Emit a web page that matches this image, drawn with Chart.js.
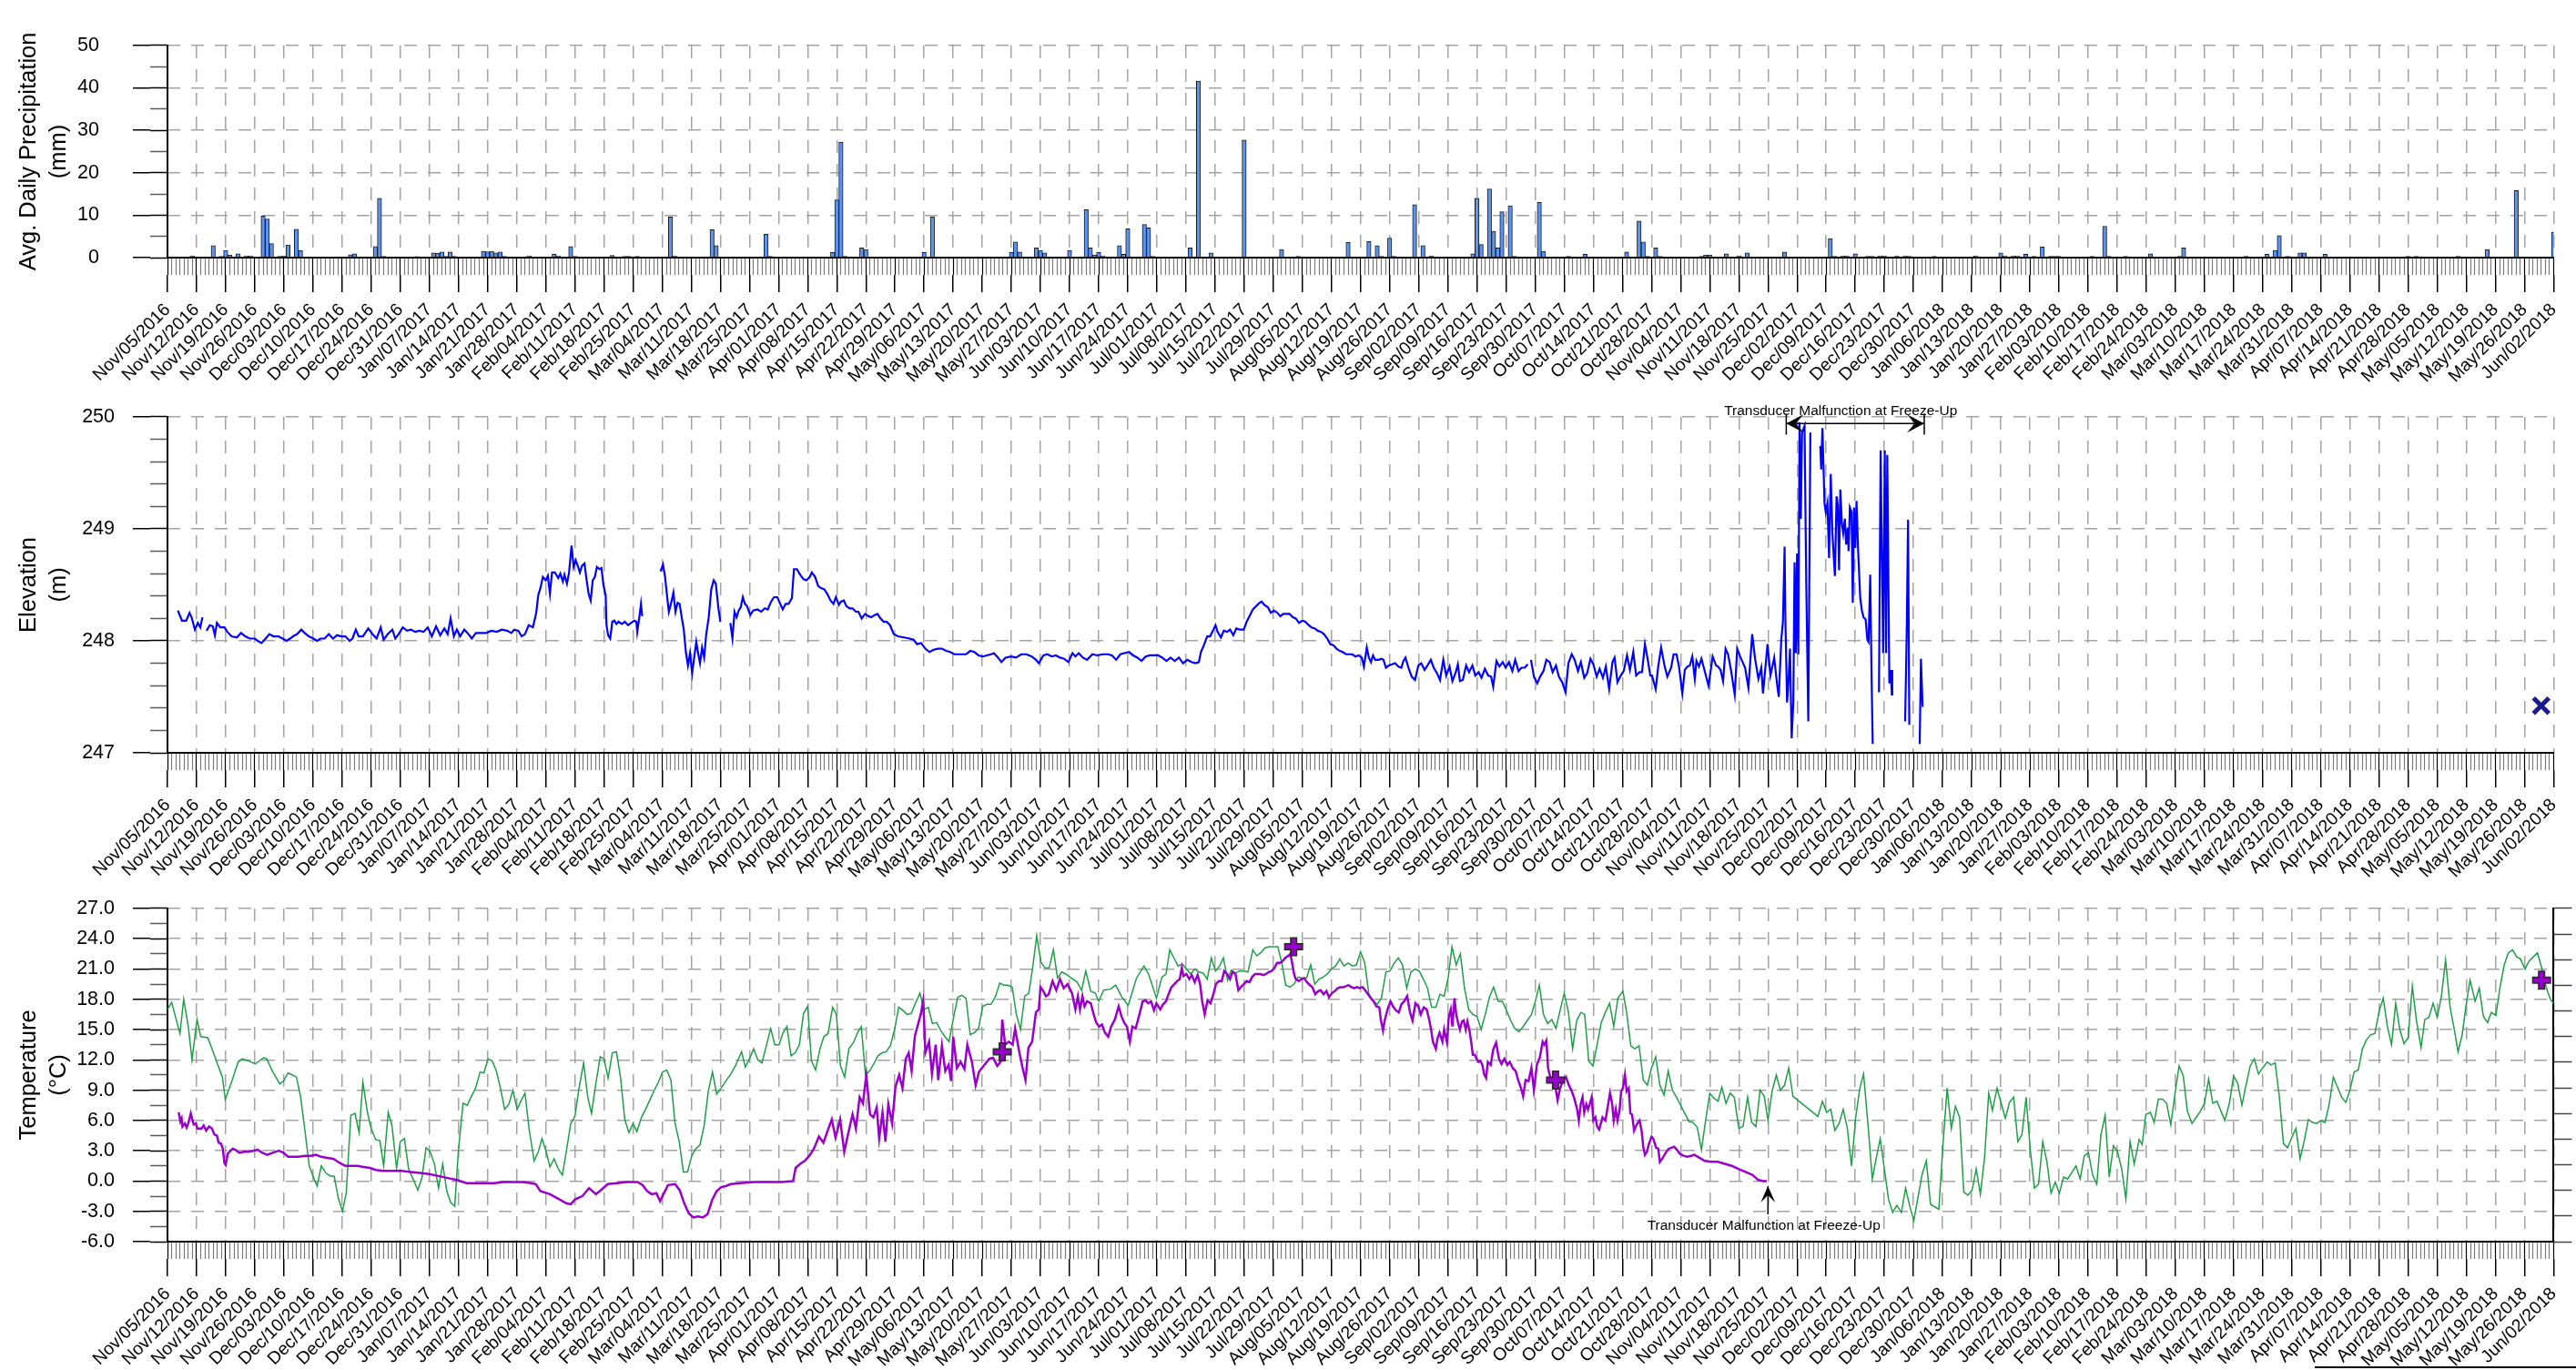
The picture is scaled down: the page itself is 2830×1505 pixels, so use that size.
<!DOCTYPE html>
<html>
<head>
<meta charset="utf-8">
<script src="https://cdn.jsdelivr.net/npm/chart.js@4.4.1/dist/chart.umd.min.js"></script>
<style>
  body { margin: 0; background: #fff; width: 2830px; height: 1505px; overflow: hidden; position: relative; }
  .band { position: absolute; left: 0; width: 2830px; }
  #legend-edge { position: absolute; left: 2543px; top: 1501px; width: 287px; border-top: 2px solid #000; }
</style>
</head>
<body>
<div class="band" style="top:0;height:430px"><canvas id="precip-chart"></canvas></div>
<div class="band" style="top:425px;height:540px"><canvas id="elevation-chart"></canvas></div>
<div class="band" style="top:965px;height:540px"><canvas id="temperature-chart"></canvas></div>
<div id="legend-edge"></div>
<script>
// x values are days counted from Nov/05/2016 (day 0) to Jun/02/2018 (day 574)
var weekLabels = [
  'Nov/05/2016','Nov/12/2016','Nov/19/2016','Nov/26/2016','Dec/03/2016','Dec/10/2016','Dec/17/2016','Dec/24/2016','Dec/31/2016',
  'Jan/07/2017','Jan/14/2017','Jan/21/2017','Jan/28/2017','Feb/04/2017','Feb/11/2017','Feb/18/2017','Feb/25/2017',
  'Mar/04/2017','Mar/11/2017','Mar/18/2017','Mar/25/2017','Apr/01/2017','Apr/08/2017','Apr/15/2017','Apr/22/2017','Apr/29/2017',
  'May/06/2017','May/13/2017','May/20/2017','May/27/2017','Jun/03/2017','Jun/10/2017','Jun/17/2017','Jun/24/2017',
  'Jul/01/2017','Jul/08/2017','Jul/15/2017','Jul/22/2017','Jul/29/2017','Aug/05/2017','Aug/12/2017','Aug/19/2017','Aug/26/2017',
  'Sep/02/2017','Sep/09/2017','Sep/16/2017','Sep/23/2017','Sep/30/2017','Oct/07/2017','Oct/14/2017','Oct/21/2017','Oct/28/2017',
  'Nov/04/2017','Nov/11/2017','Nov/18/2017','Nov/25/2017','Dec/02/2017','Dec/09/2017','Dec/16/2017','Dec/23/2017','Dec/30/2017',
  'Jan/06/2018','Jan/13/2018','Jan/20/2018','Jan/27/2018','Feb/03/2018','Feb/10/2018','Feb/17/2018','Feb/24/2018',
  'Mar/03/2018','Mar/10/2018','Mar/17/2018','Mar/24/2018','Mar/31/2018','Apr/07/2018','Apr/14/2018','Apr/21/2018','Apr/28/2018',
  'May/05/2018','May/12/2018','May/19/2018','May/26/2018','Jun/02/2018'
];

// [day, mm]
var precipMm = [
  [6,0.4],[11,2.8],[13,0.3],[14,1.7],[15,0.6],[17,0.9],[19,0.4],[20,0.4],[23,9.8],[24,9.1],[25,3.3],[27,0.3],[28,0.4],
  [29,3.0],[31,6.7],[32,1.7],[41,0.2],[42,0.2],[44,0.7],[45,0.9],[50,2.6],[51,14.0],[52,0.3],[60,0.25],[64,1.1],[65,1.0],
  [66,1.3],[67,0.3],[68,1.3],[69,0.3],[76,1.5],[77,1.4],[78,1.5],[79,1.1],[80,1.3],[81,0.3],[87,0.4],[93,0.8],[94,0.4],
  [97,2.6],[98,0.3],[107,0.5],[110,0.3],[111,0.3],[113,0.3],[121,9.6],[122,0.4],[131,6.6],[132,2.8],[144,5.5],[145,0.3],
  [160,1.2],[161,13.6],[162,27.2],[163,0.3],[167,2.3],[168,1.9],[182,1.2],[184,9.6],[203,1.2],[204,3.7],[205,1.3],[209,2.3],
  [210,1.7],[211,1.1],[217,1.7],[221,11.3],[222,2.3],[223,0.6],[224,1.2],[225,0.4],[229,2.8],[230,0.8],[231,6.8],[235,7.8],
  [236,7.0],[237,0.3],[246,2.3],[248,41.6],[251,1.1],[259,27.7],[268,1.9],[272,0.3],[284,3.6],[289,3.8],[291,2.8],[292,0.3],
  [294,4.6],[295,0.3],[300,12.5],[302,2.8],[304,0.4],[314,0.9],[315,14.0],[316,3.1],[318,16.2],[319,6.2],[320,2.3],[321,10.8],
  [323,12.2],[324,0.3],[330,13.0],[331,1.5],[337,0.3],[341,0.8],[351,1.3],[354,8.6],[355,3.7],[356,0.3],[358,2.3],[359,0.3],
  [369,0.3],[370,0.6],[371,0.6],[375,0.9],[378,0.4],[380,1.1],[389,1.3],[400,4.5],[401,0.3],[403,0.4],[404,0.4],[406,0.9],
  [409,0.3],[410,0.3],[412,0.4],[413,0.4],[416,0.4],[418,0.4],[419,0.3],[425,0.3],[435,0.4],[441,1.1],[442,0.4],[444,0.4],
  [445,0.4],[447,0.8],[449,0.3],[451,2.5],[453,0.3],[454,0.3],[455,0.3],[463,0.3],[466,7.4],[467,0.3],[471,0.3],[477,0.9],
  [484,0.3],[485,2.3],[500,0.3],[505,0.8],[507,1.7],[508,5.2],[510,0.3],[513,1.1],[514,1.1],[519,0.8],[539,0.3],[541,0.3],
  [551,0.3],[558,1.9],[565,15.8],[574,6.0]
];

// [day, m]; null = no record
var elevationM = [
  [2.5,248.27],[3.5,248.18],[4.5,248.18],[5.3,248.25],[5.8,248.21],[6.6,248.10],[7.3,248.16],[7.9,248.12],[8.4,248.21],[8.9,null],
  [9.4,248.09],[10.2,248.14],[10.9,248.13],[11.4,248.05],[11.9,248.16],[12.7,248.12],[13.7,248.12],[14.4,248.08],[15.4,248.04],
  [16.7,248.03],[17.7,248.07],[18.7,248.04],[19.8,248.02],[21,248.02],[21.7,248.00],[22.6,247.98],[23.6,248.02],[24.5,248.06],
  [25.5,248.04],[26.7,248.04],[27.7,248.02],[28.6,248.00],[29.5,248.02],[30.2,248.04],[31.2,248.06],[32.2,248.10],[33,248.07],
  [34,248.04],[35.1,248.02],[36,248.00],[36.8,248.02],[37.8,248.02],[38.8,248.06],[39.8,248.02],[40.8,248.05],[41.8,248.04],
  [42.8,248.04],[43.8,248.00],[44.5,248.02],[45.3,248.10],[46,248.04],[47,248.04],[48.3,248.11],[49.3,248.06],[50.3,248.02],
  [51.3,248.12],[52,248.01],[53,248.06],[54.1,248.10],[54.8,248.02],[55.6,248.06],[56.6,248.12],[57.6,248.09],[58.6,248.10],
  [59.6,248.08],[60.6,248.09],[61.6,248.08],[62.6,248.12],[63.6,248.04],[64.6,248.13],[65.6,248.05],[66.6,248.11],[67.4,248.06],
  [68.1,248.20],[68.9,248.04],[69.6,248.10],[70.4,248.04],[71.4,248.10],[72.4,248.06],[73.2,248.02],[74.2,248.07],[75.4,248.07],
  [76.7,248.07],[77.9,248.09],[79.2,248.08],[80.4,248.10],[81.7,248.09],[82.7,248.07],[83.4,248.10],[84.4,248.09],[85.2,248.04],
  [86,248.06],[86.9,248.14],[87.9,248.12],[88.7,248.25],[89.2,248.41],[89.7,248.47],[90.3,248.57],[91,248.54],[91.5,248.58],
  [92,248.42],[92.5,248.61],[93.2,248.61],[94,248.56],[94.5,248.60],[95.1,248.53],[95.5,248.59],[96.1,248.51],[96.6,248.61],
  [97.2,248.85],[97.7,248.66],[98.2,248.72],[98.7,248.67],[99.2,248.61],[99.7,248.67],[100.3,248.69],[100.8,248.55],[101.3,248.42],
  [101.8,248.36],[102.3,248.54],[102.8,248.57],[103.3,248.66],[103.9,248.64],[104.4,248.65],[104.9,248.49],[105.4,248.41],
  [105.6,248.14],[106,248.05],[106.5,248.02],[107,248.17],[107.5,248.18],[108,248.15],[108.5,248.17],[109.3,248.15],[110,248.17],
  [110.8,248.14],[111.5,248.16],[112.3,248.18],[112.8,248.17],[113,248.08],[113.5,248.21],[113.9,248.33],[114.2,248.22],[116,null],
  [118.6,248.62],[119.2,248.68],[119.7,248.57],[120.2,248.39],[120.6,248.26],[121.1,248.33],[121.7,248.43],[122.2,248.26],
  [122.7,248.34],[123.2,248.33],[123.7,248.21],[124.2,248.10],[124.7,247.90],[125.2,247.78],[125.7,247.89],[126.2,247.71],
  [126.7,247.85],[127.2,247.99],[127.6,247.90],[128.1,247.80],[128.6,247.94],[129.1,247.85],[129.6,248.06],[130.2,248.21],
  [130.8,248.46],[131.4,248.54],[131.9,248.51],[132.5,248.30],[133,248.17],[134,null],[135.4,248.16],[135.9,248.02],[136.4,248.26],
  [136.9,248.21],[137.4,248.27],[137.9,248.30],[138.4,248.39],[138.9,248.33],[139.4,248.31],[140.2,248.23],[140.9,248.27],
  [141.9,248.28],[142.8,248.26],[143.7,248.29],[144.4,248.28],[145.2,248.35],[145.9,248.39],[146.7,248.39],[147.4,248.33],
  [148,248.28],[148.7,248.33],[149.4,248.33],[150.2,248.38],[150.7,248.64],[151.4,248.64],[152.2,248.59],[153,248.55],
  [153.7,248.54],[154.5,248.57],[155,248.61],[155.8,248.57],[156.5,248.49],[157.2,248.47],[158,248.46],[158.7,248.42],
  [159.5,248.36],[160.2,248.33],[160.8,248.39],[161.5,248.32],[162,248.35],[162.7,248.36],[163.3,248.31],[164.1,248.29],
  [164.8,248.29],[165.6,248.26],[166.2,248.26],[167,248.20],[167.8,248.24],[168.6,248.22],[169.3,248.21],[170.1,248.23],
  [170.8,248.24],[171.5,248.20],[172.3,248.17],[173,248.17],[173.8,248.14],[174.7,248.06],[175.7,248.04],[177.2,248.03],
  [178.5,248.02],[179.5,248.01],[180.3,247.97],[181.3,247.98],[182.3,247.93],[183.3,247.90],[184.3,247.92],[185.3,247.93],
  [186.3,247.93],[187.3,247.91],[188.3,247.90],[189.3,247.88],[190.3,247.88],[191.3,247.88],[192.1,247.88],[193.1,247.91],
  [194.1,247.90],[195.1,247.87],[196.1,247.86],[197.1,247.87],[198.1,247.88],[198.8,247.89],[199.8,247.85],[200.6,247.81],
  [201.6,247.85],[202.9,247.86],[204.1,247.85],[205.4,247.88],[206.6,247.88],[207.9,247.86],[208.9,247.83],[209.6,247.80],
  [210.7,247.87],[211.7,247.88],[212.7,247.86],[213.7,247.87],[214.7,247.85],[215.7,247.84],[216.7,247.81],[217.7,247.89],
  [218.4,247.86],[219.2,247.89],[220.2,247.85],[221.2,247.83],[222.5,247.88],[223.7,247.87],[225,247.88],[226.2,247.88],
  [227.2,247.87],[228.2,247.83],[229.2,247.88],[230.2,247.89],[231.3,247.90],[232.3,247.87],[233.3,247.85],[234.3,247.82],
  [235.3,247.86],[236.3,247.87],[237.3,247.87],[238.3,247.87],[239.3,247.85],[240.3,247.82],[241.3,247.85],[242.3,247.82],
  [243.3,247.85],[244.3,247.80],[245.3,247.83],[246.3,247.81],[247.3,247.80],[248.1,247.81],[248.6,247.90],[249.3,247.96],
  [250.1,248.04],[250.8,248.04],[251.6,248.10],[252.1,248.14],[252.6,248.08],[253.4,248.03],[254.1,248.09],[254.9,248.08],
  [255.6,248.10],[256.4,248.05],[257.1,248.11],[257.9,248.10],[258.9,248.10],[259.6,248.17],[260.4,248.23],[261.1,248.28],
  [261.9,248.31],[262.7,248.34],[263.2,248.35],[263.9,248.32],[264.7,248.30],[265.4,248.25],[266.2,248.27],[267,248.25],
  [267.7,248.22],[268.4,248.24],[269.2,248.24],[269.9,248.24],[270.7,248.21],[271.4,248.20],[272.2,248.16],[273,248.18],
  [273.7,248.17],[274.5,248.14],[275.2,248.12],[276,248.11],[276.7,248.09],[277.5,248.08],[278.2,248.06],[279,248.02],
  [279.7,247.97],[280.5,247.96],[281.2,247.93],[282,247.91],[282.7,247.90],[283.5,247.88],[284.3,247.88],[285,247.88],
  [285.8,247.86],[286.5,247.87],[287.3,247.85],[287.8,247.77],[288.5,247.94],[289,247.85],[289.5,247.81],[290,247.87],
  [290.5,247.83],[291.3,247.83],[292,247.84],[292.5,247.83],[293.1,247.76],[293.8,247.78],[294.6,247.79],[295.3,247.80],
  [296.1,247.77],[296.8,247.76],[297.3,247.82],[297.8,247.85],[298.6,247.75],[299.3,247.68],[300.1,247.65],[300.9,247.78],
  [301.6,247.80],[302.4,247.74],[303.1,247.78],[303.9,247.83],[304.6,247.76],[305.4,247.71],[306.1,247.65],[306.9,247.83],
  [307.6,247.69],[308.4,247.77],[309.1,247.64],[309.9,247.72],[310.4,247.79],[310.9,247.64],[311.6,247.65],[312.4,247.78],
  [313.1,247.72],[313.9,247.78],[314.6,247.69],[315.4,247.72],[316.1,247.67],[316.9,247.75],[317.7,247.69],[318.4,247.68],
  [318.9,247.59],[319.7,247.82],[320.4,247.77],[321.2,247.81],[321.9,247.76],[322.7,247.81],[323.5,247.73],[324.2,247.83],
  [325,247.73],[325.7,247.76],[326.5,247.76],[327.2,247.79],[327.6,null],[328,247.83],[328.7,247.68],[329.5,247.62],
  [330.2,247.68],[331,247.73],[331.7,247.83],[332.5,247.81],[333.2,247.72],[334,247.78],[334.7,247.68],[335.5,247.63],
  [336.3,247.54],[337,247.80],[337.8,247.88],[338.5,247.83],[339.3,247.73],[340,247.81],[340.8,247.67],[341.5,247.71],
  [342.3,247.84],[343,247.79],[343.8,247.68],[344.5,247.75],[345.3,247.67],[346,247.77],[346.8,247.57],[347.6,247.81],
  [348.1,247.85],[348.8,247.63],[349.6,247.69],[350.3,247.73],[351.1,247.87],[351.8,247.74],[352.6,247.90],[353.3,247.69],
  [354.1,247.72],[354.7,247.72],[355.4,247.97],[356,247.85],[356.7,247.69],[357.1,247.69],[358,247.57],[358.6,247.77],
  [359.3,247.94],[360.1,247.78],[360.8,247.68],[361.7,247.76],[362.3,247.88],[363,247.88],[363.6,247.77],[364.4,247.53],
  [365,247.74],[365.6,247.77],[366.2,247.78],[366.8,247.86],[367.4,247.66],[367.8,247.82],[368.4,247.77],[369,247.84],
  [369.5,247.77],[370.7,247.60],[371.7,247.86],[372.5,247.78],[373,247.77],[373.6,247.74],[374.2,247.64],[374.8,247.93],
  [375.4,247.88],[376.1,247.74],[377,247.52],[377.6,247.93],[378.3,247.86],[378.9,247.81],[379.5,247.76],[380.3,247.58],
  [381.2,248.06],[381.9,247.84],[382.7,247.66],[383.4,247.76],[383.8,247.53],[384.9,247.97],[385.6,247.69],[386.5,247.85],
  [387.2,247.61],[387.6,247.50],[388.2,248.01],[388.6,248.17],[389,248.84],[389.2,248.17],[389.6,247.45],[389.9,247.61],
  [390.3,247.93],[390.7,247.13],[391.1,247.45],[391.4,248.70],[391.7,247.89],[392,248.78],[392.3,247.88],[392.6,249.95],
  [392.9,249.09],[393.2,249.86],[393.8,249.92],[394.2,248.54],[394.7,247.28],[395.2,249.86],[396.5,null],[397.6,249.74],
  [397.8,249.53],[398.1,249.90],[398.6,249.23],[398.9,249.15],[399.3,249.23],[399.7,248.74],[400.1,249.49],[400.5,248.96],
  [401.1,248.58],[401.5,249.29],[401.8,249.21],[402.1,248.63],[402.4,249.35],[402.8,249.04],[403.1,248.96],[403.5,249.09],
  [403.8,248.86],[404.2,249.01],[404.4,248.80],[404.7,249.19],[405.1,249.15],[405.4,248.34],[405.7,249.19],[406,248.83],
  [406.3,249.25],[406.7,248.80],[407.2,248.38],[407.6,248.27],[408,248.21],[408.5,248.19],[408.9,248.01],[409.2,247.99],
  [409.6,248.59],[409.9,247.74],[410.2,247.08],[411,null],[411.7,247.54],[412.1,249.70],[412.7,247.89],[413.1,249.70],
  [413.4,247.89],[413.7,249.66],[414.2,247.62],[414.5,247.74],[414.8,247.52],[414.9,247.74],[416,null],[418,247.28],
  [418.4,248.14],[418.7,249.08],[419,247.25],[420,null],[421.5,247.08],[421.8,247.84],[422.2,247.41]
];
var elevationSpot = [[571,247.42]];

// [day, °C]
var airTempC = [
  [0,17.0],[1,17.7],[3,14.6],[3.9,18.0],[5,15.3],[5.9,12.0],[7.1,16.0],[8,14.3],[9.7,14.2],[10.7,13.1],[12.2,11.4],[13.2,10.3],
  [13.9,8.1],[15.5,9.9],[17,11.8],[18,12.1],[19.5,11.9],[21.1,11.6],[23.1,12.2],[23.9,12.1],[25.1,11.0],[27,9.6],[27.9,9.9],
  [29,10.7],[30.1,10.5],[31,10.3],[32,8.4],[33,5.2],[34.1,1.5],[35,0.5],[36,-0.5],[37,1.5],[38.1,0.8],[39.2,0.5],[40.1,0.5],
  [41.1,-1.7],[42.1,-3.0],[43,-1.2],[44.1,6.5],[45.1,6.7],[46.1,4.8],[47,9.8],[48.1,6.8],[49,5.2],[50.1,4.1],[51.1,4.0],
  [52,1.5],[53.1,6.8],[54,5.5],[55.1,1.3],[56,3.9],[57,4.2],[58,1.2],[59.2,0.1],[60.2,-0.9],[61.2,0.3],[62.2,3.3],[63.2,2.9],
  [64.2,1.7],[65.2,-0.7],[66.2,1.7],[67.2,-1.0],[68.1,-2.1],[69.1,-2.5],[70,3.1],[71.1,7.7],[72.1,7.5],[73,8.3],[74.1,9.2],
  [75.2,10.8],[76.1,10.7],[77.1,12.1],[78.1,11.9],[79.1,10.9],[80.1,9.2],[81.1,7.1],[82.1,7.6],[83.1,9.0],[84.1,7.1],[85.1,8.0],
  [86,8.7],[87,5.1],[88.2,2.0],[89.2,2.9],[90.1,4.2],[91.1,2.9],[92,1.4],[93,2.2],[94,1.2],[95,0.6],[96,3.1],[97,5.7],[98,6.4],
  [99,9.2],[100.1,11.7],[101.1,8.3],[102,6.7],[103.1,9.8],[104.1,12.3],[105,12.1],[106,10.2],[107,12.7],[108,12.8],[109,10.2],
  [110,6.1],[111,4.8],[112,5.7],[112.9,4.9],[114,6.3],[115,7.1],[116,8.0],[117,8.9],[118.1,9.8],[119.1,10.8],[120.1,11.0],
  [121.1,10.0],[122.1,5.7],[123.1,3.9],[124.1,0.9],[125.1,0.9],[126.1,2.5],[127.1,3.2],[128.1,3.6],[129.1,5.5],[130.1,8.9],
  [131.1,10.8],[132.1,8.6],[133.2,9.2],[134.3,9.9],[135.5,10.6],[136.6,11.4],[138.1,12.8],[139,11.3],[140,12.1],[141,13.1],
  [142,12.0],[143,11.7],[144,13.3],[145.1,15.1],[146.1,13.5],[147.1,13.5],[148.1,14.7],[149,15.3],[150,12.4],[151,12.7],
  [152,13.5],[153,16.6],[154,17.3],[154.9,11.9],[155.9,11.0],[156.9,13.0],[157.9,14.3],[158.9,14.6],[160,17.2],[160.9,16.5],
  [161.9,11.4],[162.9,10.3],[163.9,13.1],[165,13.7],[166,14.7],[166.9,15.3],[167.9,10.5],[168.9,10.9],[169.9,11.6],[170.9,12.4],
  [171.9,12.7],[172.9,12.8],[173.9,13.4],[174.9,15.0],[175.9,17.2],[176.9,16.9],[177.9,16.5],[178.9,16.6],[179.9,17.6],[181,18.6],
  [182,17.0],[183,17.2],[184,15.6],[185,15.7],[186,14.9],[187,14.3],[188,13.8],[189.1,16.2],[190.1,18.2],[191.1,18.4],[192.1,18.1],
  [193.1,14.5],[194.1,14.7],[195.1,15.1],[196.1,17.3],[197.1,17.5],[198.1,17.5],[199.2,18.3],[200.2,19.6],[201.2,19.4],[202.2,19.4],
  [203.2,19.2],[204.2,16.5],[205.2,15.0],[206.2,18.3],[207.2,18.6],[208.2,21.4],[209.1,24.3],[210.1,21.7],[211.1,21.1],[212.1,21.1],
  [213.1,22.9],[214.1,20.1],[215.1,20.7],[216.1,20.5],[217.1,20.2],[218.8,19.7],[219.9,18.9],[220.9,20.8],[222.1,18.8],[223.2,18.6],
  [224,17.8],[225.2,18.9],[226.8,19.0],[228.1,19.4],[229.6,18.2],[231.1,17.4],[232,18.6],[233.1,20.1],[234.9,21.3],[236,20.5],
  [237.9,18.1],[239.2,20.2],[240.2,20.5],[241.1,22.9],[242.1,22.1],[243.1,21.3],[244.1,21.5],[245.1,21.0],[246.1,20.5],[247.1,21.0],
  [248.1,20.7],[249.1,20.6],[250.1,20.0],[251.1,22.1],[252.1,20.8],[253.1,21.3],[254,22.1],[255,19.9],[255.9,20.9],[256.9,20.6],
  [257.9,20.8],[258.9,20.8],[259.9,20.7],[261.1,22.9],[262,22.3],[263,22.6],[264,23.1],[265.1,23.2],[266.1,23.2],[267.1,23.2],
  [268,21.7],[269,19.4],[270,19.2],[271,19.5],[272,20.2],[273,20.1],[274,20.1],[275,21.4],[276,19.5],[277,20.0],[278,20.2],
  [279,20.5],[280,21.0],[281,21.3],[282,22.0],[283,21.3],[284,21.6],[285,21.3],[286,21.4],[287,22.7],[288,21.6],[289,18.5],
  [290,17.9],[291,17.5],[292,18.1],[293.1,20.7],[294.1,20.8],[295.1,21.6],[296.1,22.1],[297.1,21.4],[298.1,19.1],[299.1,20.7],
  [300.1,21.0],[301.1,20.8],[302.1,20.0],[303.1,19.1],[304.1,17.2],[305.1,17.2],[306.1,18.5],[307.1,18.3],[308.1,20.2],[309,23.2],
  [310,21.4],[311,22.5],[312,19.1],[313,17.0],[314,16.5],[315,16.3],[316,15.0],[317,16.5],[318,18.2],[319,19.2],[320.1,17.8],
  [321.1,17.8],[322.1,16.9],[323.1,15.9],[324.1,15.1],[325.1,14.8],[326.1,15.3],[327.1,15.9],[328.1,16.5],[329.1,17.9],[330,19.4],
  [331,16.5],[332,15.6],[333,16.0],[334,15.1],[335,16.9],[336,18.6],[337,16.7],[338,13.1],[339,15.9],[340,16.7],[340.9,16.5],
  [341.9,11.9],[342.9,11.4],[343.9,13.5],[344.9,15.7],[345.9,16.7],[346.9,17.6],[347.9,15.3],[348.9,18.1],[350.1,18.8],[351,16.7],
  [352,13.4],[353,13.1],[354,13.4],[355,10.0],[356,9.5],[357,11.2],[358,12.3],[359,9.5],[360,8.5],[361,10.9],[362,9.0],[363,8.3],
  [364,7.5],[365,6.7],[366,5.9],[367,5.8],[368,5.3],[369,3.1],[370,6.0],[371,8.7],[372,8.2],[373,7.9],[373.9,9.3],[374.9,7.7],
  [375.9,8.7],[376.9,8.3],[378,5.2],[379,5.4],[380.1,8.3],[381.1,5.8],[382.1,5.4],[383.1,9.0],[384.1,8.4],[385,6.0],[386,8.9],
  [387,10.5],[388,9.0],[389,9.5],[390,11.2],[391,8.4],[397,6.4],[398.1,7.9],[399.1,6.8],[400.1,7.1],[401.1,5.0],[402.1,5.7],
  [403.1,7.1],[404.1,5.2],[405.1,1.5],[406.1,6.3],[407.1,9.2],[408,10.6],[409.1,5.4],[410.1,0.2],[411,2.2],[412,4.2],[413.1,0.9],
  [414,-1.8],[415,-3.1],[416,-2.4],[417.1,-3.1],[418.1,-0.7],[419.1,-2.5],[420.1,-3.9],[421.1,-1.6],[422.1,0.7],[423.1,2.0],
  [424.1,-2.3],[426.1,-2.8],[427.1,3.6],[428.1,9.2],[429.1,5.2],[430.1,7.4],[431.1,6.3],[432.1,-1.1],[433.1,-1.4],[434.1,-0.9],
  [435.1,1.2],[436.1,-1.3],[437.1,2.3],[438.1,8.7],[439,7.0],[440.1,9.2],[441.1,7.7],[442.1,6.2],[443.1,7.8],[444.1,8.3],
  [445.1,3.9],[446.1,4.6],[447.1,8.3],[448.1,3.1],[449.1,-0.7],[450.1,-0.3],[451.1,3.9],[452.1,1.9],[453.1,-1.2],[454.1,-0.1],
  [455.1,-1.2],[456.1,0.4],[457.1,0.2],[458.2,0.9],[459.1,1.5],[460.1,0.2],[461.1,2.5],[462.1,2.8],[463.1,0.6],[464.1,-0.3],
  [465.1,4.6],[466.1,6.5],[467.1,0.4],[468.1,3.5],[469.1,2.9],[470.1,1.2],[471.1,-1.8],[472.1,3.9],[473.1,1.7],[474.3,4.1],
  [475,3.6],[475.9,6.6],[477,6.8],[477.9,5.8],[478.9,8.1],[479.9,8.1],[480.9,7.7],[481.9,5.6],[483,8.9],[483.9,11.4],[484.9,10.4],
  [485.9,6.9],[487,5.7],[488,6.3],[489,6.9],[490,7.7],[491,10.1],[492,7.7],[493,7.9],[494,6.9],[494.9,6.0],[496,7.7],[497,10.4],
  [498,9.7],[499,7.5],[500,9.5],[501,11.4],[502,12.1],[503,10.6],[504,11.2],[505.1,11.8],[506,11.5],[507,11.7],[508,8.4],[509,3.7],
  [510,3.3],[511,4.3],[512,5.2],[513,2.2],[514,4.0],[515,6.1],[516,5.8],[517,5.7],[518,6.0],[519,5.8],[520,7.6],[521,10.3],
  [522,9.3],[523,8.3],[524,7.8],[525,9.0],[526,10.8],[527,11.0],[528,13.1],[529,14.0],[530,14.5],[531,14.6],[532,16.8],[533,18.1],
  [534,15.3],[535,13.5],[536,17.6],[537,15.0],[538,13.6],[539,14.2],[540,19.3],[541,15.9],[542.1,13.2],[543,16.0],[544,16.2],
  [545,17.6],[546,16.2],[547,18.3],[548,21.9],[549.1,17.2],[550.1,15.0],[551,12.8],[552,14.5],[553,17.6],[553.9,19.9],[555.1,17.8],
  [556.1,19.1],[557.1,16.3],[558.1,15.7],[559,16.7],[560.1,16.4],[561.1,19.2],[562.1,21.4],[563.1,22.6],[564.1,22.9],[565.1,22.2],
  [566,22.0],[567.1,21.0],[568.1,21.8],[569.1,22.2],[570.1,22.6],[571.2,21.0],[572.2,19.2],[573.2,18.0],[574,17.6]
];

var waterTempC = [
  [2.7,6.8],[3.1,5.9],[3.4,6.2],[3.6,5.4],[4.2,5.7],[4.6,5.3],[5,5.7],[5.6,6.7],[5.9,6.2],[6.3,5.6],[6.8,5.7],[7.2,5.2],[8.2,5.2],
  [8.7,5.5],[9.3,5.0],[10,5.4],[10.7,5.2],[11.3,4.6],[11.9,4.5],[12.3,3.8],[12.9,3.7],[13.3,3.2],[13.7,1.8],[14,1.6],[14.5,2.7],
  [15.1,3.0],[15.7,3.2],[16.3,3.1],[17.3,2.8],[18.4,2.9],[19.5,2.9],[20.6,3.0],[21.7,3.1],[22.8,2.8],[24,2.6],[25.3,2.8],[26.8,3.0],
  [27.9,2.8],[29,2.4],[30.1,2.4],[31.5,2.4],[33,2.5],[34.4,2.5],[35.7,2.6],[37,2.4],[38.4,2.3],[39.9,2.2],[41.4,1.8],[42.8,1.5],
  [44.3,1.5],[45.7,1.5],[47.2,1.4],[48.7,1.3],[50.1,1.1],[51.8,1.0],[54,1.0],[56.3,1.0],[58.5,0.9],[60.7,0.8],[62.9,0.7],[65.2,0.5],
  [67.4,0.3],[69.6,0.1],[71.9,-0.2],[74.1,-0.2],[76.3,-0.2],[78.6,-0.2],[80.8,-0.1],[83,-0.1],[85.3,-0.1],[87.5,-0.2],[88.6,-0.3],
  [89.7,-1.0],[92,-1.3],[94.2,-1.8],[95.9,-2.2],[97,-2.3],[98.1,-1.8],[99.8,-1.5],[101.4,-0.7],[103.1,-1.3],[104.8,-0.7],[105.9,-0.3],
  [108.1,-0.2],[110.4,-0.1],[113.1,-0.1],[114.3,-0.4],[115.4,-1.0],[116.5,-1.3],[117.6,-1.2],[118.5,-2.0],[119.3,-1.3],[120.4,-0.4],
  [122.1,-0.3],[123.2,-0.9],[124.3,-2.2],[125.4,-3.2],[126.5,-3.6],[127.6,-3.5],[128.8,-3.6],[129.9,-3.3],[131,-1.9],[132.1,-1.0],
  [133.2,-0.6],[134.3,-0.5],[135.5,-0.3],[137.7,-0.2],[141,-0.1],[144.4,-0.1],[147.7,-0.1],[150.5,0.0],[151.1,1.3],[152.2,1.7],
  [153.3,2.0],[154.4,2.5],[155.5,3.2],[156.7,4.4],[157.8,3.8],[158.9,5.1],[159.8,6.1],[160.7,4.3],[161.8,6.1],[162.8,2.9],[163.9,5.0],
  [164.8,6.6],[165.6,5.2],[166.5,8.3],[167.3,7.7],[168.1,10.5],[169,6.6],[169.8,6.3],[170.6,7.3],[171.2,4.2],[172,6.8],[172.7,3.9],
  [173.4,7.6],[174.3,5.7],[175.1,9.3],[176,10.5],[176.8,9.2],[177.6,12.1],[178.3,12.7],[179,10.9],[179.8,14.4],[180.6,15.6],
  [181.2,16.5],[181.8,17.9],[182.3,12.7],[183.2,13.8],[183.9,10.6],[184.8,13.5],[185.4,10.0],[186.3,13.4],[187.1,10.9],[187.9,11.5],
  [188.5,9.9],[189,14.3],[189.9,11.2],[190.8,11.8],[191.7,11.1],[192.4,13.5],[193.5,11.8],[194.4,9.5],[195.2,10.8],[196.3,11.4],
  [197.7,12.1],[198.6,12.2],[199.6,11.4],[200.4,11.8],[200.8,16.0],[201.5,13.5],[202.4,13.8],[203.3,13.5],[203.9,15.1],[204.8,13.0],
  [205.7,11.2],[206.4,10.0],[207.1,13.2],[208,13.8],[208.9,16.7],[209.6,17.0],[210,19.2],[210.7,18.8],[211.3,18.3],[212,18.5],
  [212.9,19.8],[213.8,18.9],[214.7,20.0],[215.6,19.1],[216.5,19.5],[217.6,18.6],[218.4,17.0],[219,18.3],[219.5,17.0],[220.1,18.3],
  [220.6,17.3],[221.2,17.8],[222.1,17.6],[222.8,16.5],[223.4,15.7],[224.1,15.3],[224.8,15.5],[225.5,14.7],[226.3,14.3],[227,15.3],
  [227.9,16.0],[228.8,17.3],[229.5,16.3],[230.1,15.7],[230.8,15.3],[231.5,13.8],[232.1,15.3],[232.9,15.1],[233.8,16.5],[234.6,17.8],
  [235.3,17.9],[235.9,17.6],[236.6,17.8],[237.3,16.9],[237.9,17.6],[238.8,17.0],[239.5,17.5],[240.2,17.8],[240.8,18.5],[241.5,19.2],
  [242.2,19.5],[242.9,19.8],[243.5,20.0],[244,21.1],[244.4,20.3],[245.1,20.5],[245.8,20.0],[246.4,20.4],[247.1,19.7],[247.8,20.4],
  [248.4,19.5],[248.9,17.8],[249.5,16.5],[250.2,17.9],[250.9,17.6],[251.6,18.5],[252.2,19.5],[252.9,19.8],[253.6,19.8],[254.2,20.8],
  [254.9,20.5],[255.6,20.0],[256.2,20.7],[256.9,20.5],[257.6,18.9],[258.2,19.2],[258.9,19.5],[259.6,19.8],[260.3,19.7],[260.9,20.2],
  [261.6,20.5],[262.3,20.5],[262.9,20.5],[263.6,20.4],[264.3,20.5],[264.9,20.7],[265.6,20.8],[266.3,21.1],[266.9,21.6],[267.6,21.6],
  [268.3,21.8],[268.9,22.1],[269.6,22.3],[270.1,22.5],[270.5,21.7],[271,20.5],[271.4,20.0],[272.1,19.8],[272.8,20.0],[273.4,20.1],
  [274.1,19.7],[274.8,19.4],[275.4,19.2],[276.1,18.5],[276.8,18.8],[277.4,18.9],[278.1,18.5],[278.8,18.8],[279.4,18.2],[280.1,18.6],
  [280.8,18.8],[281.5,19.1],[282.1,19.2],[282.8,19.2],[283.5,19.3],[284.1,19.4],[284.8,19.2],[285.5,19.1],[286.1,19.2],[286.8,19.1],
  [287.5,19.2],[288.1,18.9],[288.8,18.5],[289.5,18.1],[290.1,17.8],[290.8,17.3],[291.5,17.2],[291.9,15.9],[292.4,14.9],[292.8,15.9],
  [293.5,17.0],[294.2,17.8],[294.8,17.3],[295.5,16.9],[296.2,16.7],[296.8,17.5],[297.5,17.8],[298.2,18.3],[298.9,16.7],[299.5,15.9],
  [300.2,17.6],[300.9,17.3],[301.5,16.5],[302.2,17.2],[302.9,17.0],[303.5,16.0],[304,14.9],[304.4,13.8],[305.1,13.1],[305.5,14.1],
  [306,14.7],[306.7,13.8],[307.1,15.0],[307.8,13.7],[308.2,16.2],[308.7,17.0],[309.1,15.3],[309.6,18.1],[310,16.5],[310.5,15.6],
  [310.9,15.0],[311.4,15.8],[311.8,15.9],[312.3,15.0],[312.7,15.8],[313.2,14.9],[313.6,13.8],[314,12.5],[314.5,12.5],[314.9,12.1],
  [315.4,11.8],[315.8,11.9],[316.3,11.5],[316.7,10.6],[317.2,10.2],[317.6,11.8],[318.3,11.5],[318.9,13.0],[319.6,13.7],[320.3,12.1],
  [320.9,11.6],[321.6,12.1],[322.3,11.5],[322.9,11.8],[323.6,11.2],[324.3,10.9],[324.9,10.0],[325.6,9.2],[326.1,8.4],[326.7,10.0],
  [327.4,9.9],[328.1,11.2],[328.7,9.0],[329.4,11.5],[330.1,12.2],[330.8,13.8],[331.2,13.5],[331.7,13.9],[332.1,11.2],[332.8,10.0],
  [333.5,9.9],[333.9,9.2],[334.4,8.0],[335,9.2],[335.7,10.0],[336.4,10.3],[337.1,9.5],[337.7,9.0],[338.4,8.2],[339.1,7.1],[339.5,6.0],
  [340,7.7],[340.4,8.3],[340.8,6.8],[341.3,7.6],[341.7,7.1],[342.1,7.6],[342.6,8.3],[343,6.0],[343.5,6.3],[343.9,5.4],[344.4,5.1],
  [344.8,5.7],[345.2,6.3],[345.9,6.0],[346.6,7.7],[347,8.7],[347.5,7.7],[347.9,6.0],[348.4,7.1],[348.8,6.0],[349.3,7.0],[349.7,8.9],
  [350.1,9.2],[350.6,10.5],[351,8.9],[351.5,9.2],[351.9,6.7],[352.3,6.6],[352.8,5.0],[353.2,5.4],[353.7,5.8],[354.1,6.0],[354.6,5.0],
  [355,3.4],[355.4,2.6],[355.9,2.9],[356.3,3.6],[357,4.4],[357.4,4.2],[358.1,3.3],[358.6,3.2],[359,1.9],[359.7,2.3],[360.4,2.8],
  [361.1,3.2],[361.8,3.3],[362.4,3.4],[363.1,3.1],[363.8,2.7],[364.7,2.5],[365.6,2.4],[366.5,2.5],[367.3,2.6],[368.5,2.3],[369.8,2.0],
  [371.3,1.9],[372.9,1.9],[374.6,1.7],[376.3,1.5],[377.9,1.2],[379.6,0.9],[381.3,0.6],[382.7,0.1],[384,0.0],[384.7,0.0]
];
var waterSpotC = [[200.8,12.8],[270.9,23.2],[333.9,10.0],[571.1,19.9]];

var FONT = "'Liberation Sans', Arial, sans-serif";
var GRID = '#a4a4a4';
var DASH = [14, 12];
var NOTE = 'Transducer Malfunction at Freeze-Up';

Chart.defaults.font.family = FONT;
Chart.defaults.color = '#000';

function xy(pairs) {
  return pairs.map(function (p) { return {x: p[0], y: p[1]}; });
}

function onStep(v, step, base) {
  var k = (v - base) / step;
  return Math.abs(k - Math.round(k)) < 1e-6;
}

// daily minor ticks right under the plot, weekly labelled ticks below them
function dayScales(labelBand) {
  return {
    xMinor: {
      type: 'linear', position: 'bottom', weight: 0, min: 0, max: 574, offset: false,
      ticks: {display: false, stepSize: 1},
      grid: {offset: false, drawOnChartArea: false, tickLength: 19, tickWidth: 1.2,
        tickColor: function (c) { return c.tick && onStep(c.tick.value, 7, 0) ? '#000' : '#7b7b7b'; }},
      border: {display: true, color: '#000', width: 2},
      afterFit: function (s) { s.height = 19; }
    },
    x: {
      type: 'linear', position: 'bottom', weight: 1, min: 0, max: 574, offset: false,
      ticks: {stepSize: 7, autoSkip: false, minRotation: 45, maxRotation: 45, padding: 8, font: {size: 19.5},
        callback: function (v) { return weekLabels[Math.round(v / 7)]; }},
      grid: {offset: false, color: GRID, lineWidth: 1.5, tickLength: 19, tickWidth: 1.5, tickColor: '#000'},
      border: {display: false, dash: DASH},
      afterFit: function (s) { s.height = labelBand; }
    }
  };
}

function valueScales(min, max, minorStep, majorStep, fmt, title, labelPad) {
  return {
    yMinor: {
      type: 'linear', position: 'left', weight: 0, min: min, max: max,
      ticks: {display: false, stepSize: minorStep},
      grid: {drawOnChartArea: false, tickLength: 19, tickWidth: 1.5,
        tickColor: function (c) { return c.tick && onStep(c.tick.value, majorStep, min) ? '#000' : '#5a5a5a'; }},
      border: {display: true, color: '#000', width: 2},
      afterFit: function (s) { s.width = 19; }
    },
    y: {
      type: 'linear', position: 'left', weight: 1, min: min, max: max,
      ticks: {stepSize: majorStep, padding: labelPad, font: {size: 21.5}, callback: fmt},
      grid: {color: GRID, lineWidth: 1.5, tickLength: 19, tickWidth: 1.5, tickColor: '#000'},
      border: {display: false, dash: DASH},
      title: {display: true, text: title, font: {size: 25.5, lineHeight: 1.28}, padding: {top: 16, bottom: 0}},
      afterFit: function (s) { s.width = 165; }
    }
  };
}

function baseOptions(pad, scales) {
  return {
    responsive: true,
    maintainAspectRatio: false,
    devicePixelRatio: 1,
    animation: false,
    layout: {padding: pad},
    plugins: {legend: {display: false}, tooltip: {enabled: false}},
    elements: {point: {radius: 0}, line: {tension: 0}},
    scales: scales
  };
}

function arrowHead(ctx, x, y, angle, len, half) {
  ctx.save();
  ctx.translate(x, y);
  ctx.rotate(angle);
  ctx.beginPath();
  ctx.moveTo(0, 0);
  ctx.lineTo(-len, -half);
  ctx.lineTo(-len * 0.55, 0);
  ctx.lineTo(-len, half);
  ctx.closePath();
  ctx.fill();
  ctx.restore();
}

// --- precipitation ---
new Chart(document.getElementById('precip-chart'), {
  type: 'bar',
  data: {
    datasets: [{
      data: xy(precipMm),
      xAxisID: 'x', yAxisID: 'y',
      backgroundColor: '#5a94f4',
      borderColor: '#1a1a1a',
      borderWidth: 1,
      barPercentage: 1,
      categoryPercentage: 1
    }]
  },
  options: baseOptions({top: 18, right: 22, left: 0, bottom: 0},
    Object.assign(dayScales(128), valueScales(0, 50, 5, 10, function (v) { return v; },
      ['Avg. Daily Precipitation', '(mm)'], 37)))
});

// --- elevation ---
var freezeSpan = {
  id: 'freezeSpan',
  afterDatasetsDraw: function (chart) {
    var ctx = chart.ctx, x = chart.scales.x, y = chart.scales.y;
    var x0 = x.getPixelForValue(389.4), x1 = x.getPixelForValue(422.6);
    var ya = y.getPixelForValue(249.94);
    ctx.save();
    ctx.strokeStyle = '#000';
    ctx.fillStyle = '#000';
    ctx.lineWidth = 1.5;
    ctx.beginPath();
    ctx.moveTo(x0, ya); ctx.lineTo(x1, ya);
    ctx.moveTo(x0, y.getPixelForValue(250.03)); ctx.lineTo(x0, y.getPixelForValue(249.84));
    ctx.moveTo(x1, y.getPixelForValue(250.03)); ctx.lineTo(x1, y.getPixelForValue(249.84));
    ctx.stroke();
    arrowHead(ctx, x0, ya, Math.PI, 19, 10);
    arrowHead(ctx, x1, ya, 0, 19, 10);
    ctx.font = '15.5px ' + FONT;
    ctx.textAlign = 'center';
    ctx.textBaseline = 'alphabetic';
    ctx.fillText(NOTE, x.getPixelForValue(402.5), y.getPixelForValue(250) - 2);
    ctx.restore();
  }
};

new Chart(document.getElementById('elevation-chart'), {
  type: 'line',
  data: {
    datasets: [{
      data: xy(elevationSpot),
      xAxisID: 'x', yAxisID: 'y',
      showLine: false,
      pointStyle: 'crossRot',
      pointRadius: 12,
      pointBorderWidth: 5,
      pointBorderColor: '#1b1b8c',
      borderColor: '#1b1b8c'
    }, {
      data: xy(elevationM),
      xAxisID: 'x', yAxisID: 'y',
      borderColor: '#0000ff',
      borderWidth: 2.2,
      pointRadius: 0,
      spanGaps: false
    }]
  },
  options: baseOptions({top: 24, right: 22, left: 0, bottom: 0},
    Object.assign(dayScales(119), valueScales(247, 250, 0.2, 1, function (v) { return Math.round(v); },
      ['Elevation', '(m)'], 20))),
  plugins: [freezeSpan]
});

// --- temperature ---
var freezeMark = {
  id: 'freezeMark',
  afterDatasetsDraw: function (chart) {
    var ctx = chart.ctx, x = chart.scales.x, y = chart.scales.y;
    var xa = x.getPixelForValue(385);
    var tip = y.getPixelForValue(-0.5);
    ctx.save();
    ctx.strokeStyle = '#000';
    ctx.fillStyle = '#000';
    ctx.lineWidth = 1.5;
    ctx.beginPath();
    ctx.moveTo(xa, tip); ctx.lineTo(xa, y.getPixelForValue(-3.3));
    ctx.stroke();
    arrowHead(ctx, xa, tip, -Math.PI / 2, 18, 8);
    ctx.font = '15.5px ' + FONT;
    ctx.textAlign = 'center';
    ctx.textBaseline = 'middle';
    ctx.fillText(NOTE, x.getPixelForValue(384), y.getPixelForValue(-4.4));
    ctx.restore();
  }
};

var tempScales = Object.assign(dayScales(122), valueScales(-6, 27, 1.5, 3, function (v) { return v.toFixed(1); },
  ['Temperature', '(\u00B0C)'], 20));
tempScales.yRight = {
  type: 'linear', position: 'right', min: 0, max: 13,
  ticks: {display: false, stepSize: 1},
  grid: {drawOnChartArea: false, tickLength: 20, tickWidth: 1.5, tickColor: '#444'},
  border: {display: true, color: '#000', width: 2},
  afterFit: function (s) { s.width = 22; }
};

new Chart(document.getElementById('temperature-chart'), {
  type: 'line',
  data: {
    datasets: [{
      data: xy(waterSpotC),
      xAxisID: 'x', yAxisID: 'y', order: 0,
      showLine: false, pointStyle: 'cross', pointRadius: 9, pointBorderWidth: 4.5,
      pointBorderColor: '#9a00cc', borderColor: '#9a00cc'
    }, {
      data: xy(waterSpotC),
      xAxisID: 'x', yAxisID: 'y', order: 1,
      showLine: false, pointStyle: 'cross', pointRadius: 10.5, pointBorderWidth: 8,
      pointBorderColor: '#2a2a2a', borderColor: '#2a2a2a'
    }, {
      data: xy(waterTempC),
      xAxisID: 'x', yAxisID: 'y', order: 2,
      borderColor: '#9a00cc', borderWidth: 2.5, pointRadius: 0
    }, {
      data: xy(airTempC),
      xAxisID: 'x', yAxisID: 'y', order: 3,
      borderColor: '#1f9e47', borderWidth: 1.5, pointRadius: 0
    }]
  },
  options: baseOptions({top: 21, right: 0, left: 0, bottom: 0}, tempScales),
  plugins: [freezeMark]
});
</script>
</body>
</html>
